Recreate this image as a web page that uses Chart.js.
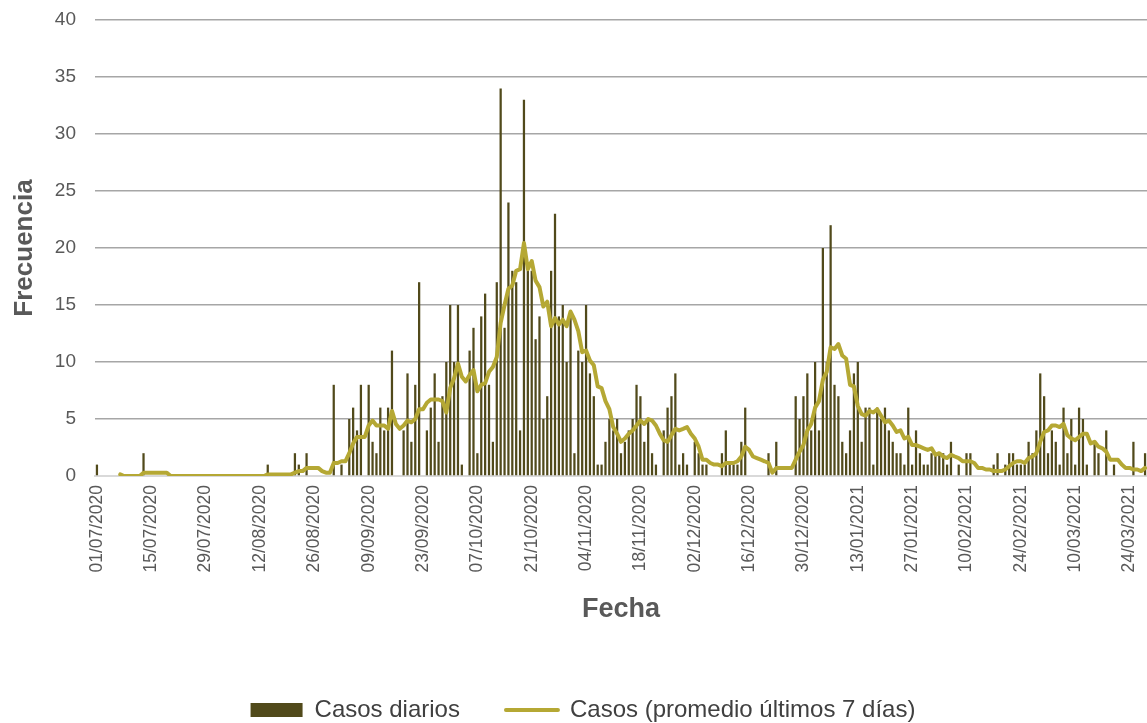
<!DOCTYPE html>
<html>
<head>
<meta charset="utf-8">
<script src="https://cdn.jsdelivr.net/npm/chart.js@4.4.1/dist/chart.umd.min.js"></script>
<style>
  html, body { margin: 0; padding: 0; background: #fff; }
  #wrap { width: 1147px; height: 723px; }
</style>
</head>
<body>
<div id="wrap"><canvas id="chart"></canvas></div>
<script>
// --- data (one value per day, 01/07/2020 .. 28/03/2021) ---
const startDate = Date.UTC(2020, 6, 1);
const dayCount = 271;

const tickLabels = [
  '01/07/2020', '15/07/2020', '29/07/2020', '12/08/2020', '26/08/2020',
  '09/09/2020', '23/09/2020', '07/10/2020', '21/10/2020', '04/11/2020',
  '18/11/2020', '02/12/2020', '16/12/2020', '30/12/2020', '13/01/2021',
  '27/01/2021', '10/02/2021', '24/02/2021', '10/03/2021', '24/03/2021'
];

const dailyCases = [
  1, 0, 0, 0, 0, 0, 0, 0, 0, 0, 0, 0, 2, 0,
  0, 0, 0, 0, 0, 0, 0, 0, 0, 0, 0, 0, 0, 0,
  0, 0, 0, 0, 0, 0, 0, 0, 0, 0, 0, 0, 0, 0,
  0, 0, 1, 0, 0, 0, 0, 0, 0, 2, 1, 0, 2, 0,
  0, 0, 0, 0, 0, 8, 0, 1, 0, 5, 6, 4, 8, 0,
  8, 3, 2, 6, 4, 6, 11, 0, 0, 4, 9, 3, 8, 17,
  0, 4, 6, 9, 3, 7, 10, 15, 10, 15, 1, 0, 11, 13,
  2, 14, 16, 8, 3, 17, 34, 13, 24, 18, 17, 4, 33, 18,
  18, 12, 14, 5, 7, 18, 23, 14, 15, 10, 14, 2, 11, 10,
  15, 9, 7, 1, 1, 3, 5, 4, 5, 2, 3, 4, 5, 8,
  7, 3, 5, 2, 1, 0, 4, 6, 7, 9, 1, 2, 1, 0,
  3, 2, 1, 1, 0, 0, 0, 2, 4, 1, 1, 1, 3, 6,
  0, 0, 0, 0, 0, 2, 0, 3, 0, 0, 0, 0, 7, 5,
  7, 9, 4, 10, 4, 20, 10, 22, 8, 7, 3, 2, 4, 9,
  10, 3, 6, 6, 1, 6, 5, 6, 4, 3, 2, 2, 1, 6,
  1, 4, 2, 1, 1, 2, 2, 2, 2, 1, 3, 0, 1, 0,
  2, 2, 0, 0, 0, 0, 0, 1, 2, 0, 1, 2, 2, 1,
  1, 1, 3, 2, 4, 9, 7, 2, 4, 3, 1, 6, 2, 5,
  1, 6, 5, 1, 0, 3, 2, 0, 4, 0, 1, 0, 0, 0,
  0, 3, 0, 0, 2
];

const avg7Days = [
  null, null, null, null, null, null, 0.14, 0, 0, 0, 0, 0, 0.29, 0.29,
  0.29, 0.29, 0.29, 0.29, 0.29, 0, 0, 0, 0, 0, 0, 0, 0, 0,
  0, 0, 0, 0, 0, 0, 0, 0, 0, 0, 0, 0, 0, 0,
  0, 0, 0.14, 0.14, 0.14, 0.14, 0.14, 0.14, 0.14, 0.29, 0.43, 0.43, 0.71, 0.71,
  0.71, 0.71, 0.43, 0.29, 0.29, 1.14, 1.14, 1.29, 1.29, 2.0, 2.86, 3.43, 3.43, 3.43,
  4.43, 4.86, 4.43, 4.43, 4.43, 4.14, 5.71, 4.57, 4.14, 4.43, 4.86, 4.71, 5.0, 5.86,
  5.86, 6.43, 6.71, 6.71, 6.71, 6.57, 5.57, 7.71, 8.57, 9.86, 8.71, 8.29, 8.86, 9.29,
  7.43, 8.0, 8.14, 9.14, 9.57, 10.43, 13.43, 15.0, 16.43, 16.71, 18.0, 18.14, 20.43, 18.14,
  18.86, 17.14, 16.57, 14.86, 15.29, 13.14, 13.86, 13.29, 13.71, 13.14, 14.43, 13.71, 12.71, 10.86,
  11.0, 10.14, 9.71, 7.86, 7.71, 6.57, 5.86, 4.29, 3.71, 3.0, 3.29, 3.71, 4.0, 4.43,
  4.86, 4.57, 5.0, 4.86, 4.43, 3.71, 3.14, 3.0, 3.57, 4.14, 4.0, 4.14, 4.29, 3.71,
  3.29, 2.57, 1.43, 1.43, 1.14, 1.0, 1.0, 0.86, 1.14, 1.14, 1.14, 1.29, 1.71, 2.57,
  2.29, 1.71, 1.57, 1.43, 1.29, 1.14, 0.29, 0.71, 0.71, 0.71, 0.71, 0.71, 1.43, 2.14,
  2.71, 4.0, 4.57, 6.0, 6.57, 8.43, 9.14, 11.29, 11.14, 11.57, 10.57, 10.29, 8.0, 7.86,
  6.14, 5.43, 5.29, 5.71, 5.57, 5.86, 5.29, 4.71, 4.86, 4.43, 3.86, 4.0, 3.29, 3.43,
  2.71, 2.71, 2.57, 2.43, 2.29, 2.43, 1.86, 2.0, 1.71, 1.57, 1.86, 1.71, 1.57, 1.29,
  1.29, 1.29, 1.14, 0.71, 0.71, 0.57, 0.57, 0.43, 0.43, 0.43, 0.57, 0.86, 1.14, 1.29,
  1.29, 1.14, 1.57, 1.71, 2.0, 3.0, 3.86, 4.0, 4.43, 4.43, 4.29, 4.57, 3.57, 3.29,
  3.14, 3.43, 3.71, 3.71, 2.86, 3.0, 2.57, 2.43, 2.14, 1.43, 1.43, 1.43, 1.0, 0.71,
  0.71, 0.57, 0.57, 0.43, 0.71
];

// dd/mm/yyyy for each day
const categories = [];
for (let i = 0; i < dayCount; i++) {
  const d = new Date(startDate + i * 86400000);
  const dd = String(d.getUTCDate()).padStart(2, '0');
  const mm = String(d.getUTCMonth() + 1).padStart(2, '0');
  categories.push(`${dd}/${mm}/${d.getUTCFullYear()}`);
}

const barColor = '#514a1b';
const lineColor = '#b5a834';
const textColor = '#595959';
const fontFamily = '"Liberation Sans", Arial, sans-serif';

Chart.defaults.font.family = fontFamily;
Chart.defaults.color = textColor;

const ctx = document.getElementById('chart').getContext('2d');

new Chart(ctx, {
  type: 'bar',
  data: {
    labels: categories,
    datasets: [
      {
        type: 'bar',
        label: 'Casos diarios',
        data: dailyCases,
        backgroundColor: barColor,
        borderWidth: 0,
        barPercentage: 0.58,
        categoryPercentage: 1,
        order: 1
      },
      {
        type: 'line',
        label: 'Casos (promedio últimos 7 días)',
        data: avg7Days,
        borderColor: lineColor,
        backgroundColor: lineColor,
        borderWidth: 4,
        borderCapStyle: 'round',
        borderJoinStyle: 'round',
        pointRadius: 0,
        tension: 0,
        spanGaps: false,
        order: 0
      }
    ]
  },
  options: {
    responsive: true,
    maintainAspectRatio: false,
    animation: false,
    layout: { padding: { top: 20, left: 19, right: 0, bottom: -9 } },
    plugins: {
      tooltip: { enabled: false },
      legend: {
        position: 'bottom',
        labels: {
          usePointStyle: true,
          pointStyleWidth: 52,
          boxHeight: 14,
          padding: 46,
          color: '#404040',
          font: { size: 24 },
          sort: (a, b) => a.datasetIndex - b.datasetIndex,
          generateLabels: chart => {
            const items = Chart.defaults.plugins.legend.labels.generateLabels(chart);
            items.forEach(it => {
              it.pointStyle = it.datasetIndex === 0 ? 'rect' : 'line';
              if (it.datasetIndex === 1) {
                it.lineWidth = 4;
                it.strokeStyle = lineColor;
                it.lineCap = 'round';
              }
            });
            return items;
          }
        }
      }
    },
    scales: {
      x: {
        offset: true,
        grid: { display: false, drawTicks: true, tickLength: 8 },
        border: { display: true, color: '#d9d9d9', width: 2 },
        ticks: {
          autoSkip: false,
          maxRotation: 90,
          minRotation: 90,
          padding: 1,
          color: textColor,
          font: { size: 17.5 },
          callback: (value, index) => tickLabels.includes(categories[index]) ? categories[index] : null
        },
        title: {
          display: true,
          text: 'Fecha',
          color: textColor,
          font: { size: 27, weight: 'bold' },
          padding: { top: 0, bottom: 25.8 }
        },
        afterFit: scale => {
          scale.height = 176;
          scale.paddingLeft = 0;
          scale.paddingRight = 0;
        }
      },
      y: {
        min: 0,
        max: 40,
        ticks: { stepSize: 5, padding: 19, color: textColor, font: { size: 19 } },
        grid: {
          drawTicks: false,
          lineWidth: 1.5,
          color: c => c.tick && c.tick.value === 0 ? 'rgba(0,0,0,0)' : '#a6a6a6'
        },
        border: { display: false },
        title: {
          display: true,
          text: 'Frecuencia',
          color: textColor,
          font: { size: 26, weight: 'bold' },
          padding: { top: -9.6, bottom: 0 }
        },
        afterFit: scale => {
          scale.width = 76;
          scale.paddingTop = 0;
          scale.paddingBottom = 0;
        }
      }
    }
  }
});
</script>
</body>
</html>
